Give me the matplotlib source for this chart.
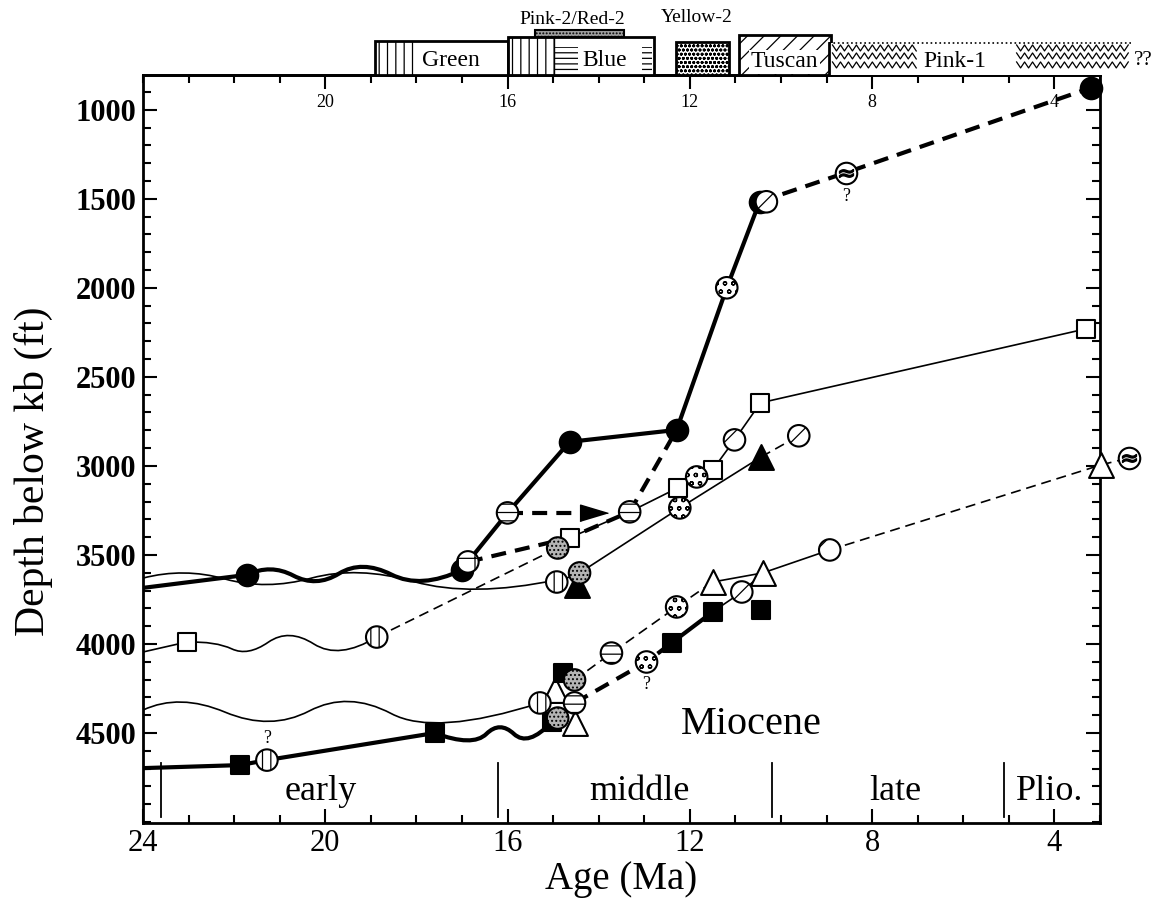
import numpy as np
import matplotlib.pyplot as plt
from matplotlib.path import Path
from matplotlib.patches import PathPatch, Rectangle
from matplotlib.ticker import MultipleLocator
from matplotlib.transforms import blended_transform_factory

plt.rcParams['font.family'] = ['Liberation Serif', 'DejaVu Serif']
plt.rcParams['hatch.linewidth'] = 0.9
plt.rcParams['hatch.color'] = 'black'

# ---- data: age (Ma), depth below kb (ft) ----
# well with solid circles (thick line)
w1_age = [24.0, 21.72]
w1_dep = [3685, 3612]
w1_wig_age = [21.2, 20.2, 19.2, 17.9]          # wiggle control points
w1_wig_dep = [3548, 3684, 3526, 3694]
w1b_age = [17.0, 16.87, 16.0, 14.64, 12.29, 11.19, 10.47]
w1b_dep = [3584, 3539, 3264, 2865, 2798, 2000, 1517]
w1c_age = [10.47, 8.58, 3.19]
w1c_dep = [1517, 1354, 876]
w1d_age = [16.87, 14.64, 13.32, 12.29]
w1d_dep = [3539, 3404, 3258, 2798]
arrow_age = [16.0, 14.11]
arrow_dep = [3264, 3264]

# well with open squares (thin line)
w2_age = [24.0, 23.04]
w2_dep = [4045, 3989]
w2_wig_age = [22.4, 21.7, 20.8, 19.7]
w2_wig_dep = [3985, 4070, 3910, 4090]
w2b_age = [18.87, 14.9]
w2b_dep = [3961, 3461]
w2c_age = [14.9, 14.64, 13.32, 12.27, 11.85, 11.5, 11.02, 10.45, 3.3]
w2c_dep = [3461, 3404, 3258, 3124, 3062, 3022, 2854, 2646, 2230]

# well with solid triangles (thin line)
w3_start = (24.0, 3630)
w3_wig_age = [23.1, 21.3, 19.3, 16.8]
w3_wig_dep = [3570, 3700, 3560, 3740]
w3_end = (14.92, 3640)
w3b_age = [14.92, 14.42, 12.22, 10.43]
w3b_dep = [3652, 3601, 3236, 2949]
w3c_age = [10.43, 9.61]
w3c_dep = [2949, 2831]

# lower thin wiggle
w4_start = (24.0, 4371)
w4_wig_age = [23.2, 21.2, 19.5, 17.6]
w4_wig_dep = [4275, 4490, 4262, 4520]
w4_end = (15.29, 4331)
w4b_age = [15.29, 14.53]
w4b_dep = [4331, 4331]

# well with solid squares (thick line)
w5_age = [24.0, 21.87, 21.28, 17.6]
w5_dep = [4697, 4680, 4652, 4500]
w5_wig_age = [16.76, 16.17, 15.55]
w5_wig_dep = [4580, 4430, 4580]
w5_end = (15.03, 4438)
w5b_age = [14.53, 12.95, 12.4]
w5b_dep = [4331, 4101, 3994]
w5c_age = [12.4, 11.5]
w5c_dep = [3994, 3820]
w5d_age = [11.5, 10.86, 10.4]
w5d_dep = [3820, 3708, 3601]

# well with open triangles (thin line)
w6_age = [14.53, 13.72, 12.29, 11.5]
w6_dep = [4202, 4051, 3792, 3652]
w6b_age = [11.5, 10.4, 8.93]
w6b_dep = [3652, 3601, 3472]
w6c_age = [8.93, 2.97, 2.36]
w6c_dep = [3472, 2994, 2955]

# markers
solid_circ_age = [21.72, 17.0, 14.64, 12.29, 10.47, 3.19]
solid_circ_dep = [3612, 3584, 2865, 2798, 1517, 876]
cross_age = [16.87]
cross_dep = [3539]
blue_age = [16.0, 13.32, 13.72, 14.53]
blue_dep = [3264, 3258, 4051, 4331]
green_age = [18.87, 14.92, 15.29, 21.28]
green_dep = [3961, 3652, 4331, 4652]
pink2_age = [14.9, 14.42, 14.53, 14.9]
pink2_dep = [3461, 3601, 4202, 4416]
yellow_age = [11.19, 11.85, 12.22, 12.29, 12.95]
yellow_dep = [2000, 3062, 3236, 3792, 4101]
tuscan_age = [10.32, 11.02, 9.61, 10.86, 8.93]
tuscan_dep = [1517, 2854, 2831, 3708, 3472]
pink1_age = [8.58, 2.36]
pink1_dep = [1354, 2955]
open_sq_age = [23.04, 14.64, 12.27, 11.5, 10.45, 3.3]
open_sq_dep = [3989, 3404, 3124, 3022, 2646, 2230]
solid_sq_age = [21.87, 17.6, 15.03, 14.79, 12.4, 11.5, 10.43]
solid_sq_dep = [4680, 4500, 4438, 4163, 3994, 3820, 3809]
open_tri_age = [14.96, 14.53, 11.5, 10.4, 2.97]
open_tri_dep = [4258, 4444, 3652, 3601, 2994]
solid_tri_age = [14.48, 10.43]
solid_tri_dep = [3668, 2949]

query_age = [21.28, 8.58, 12.95]
query_dep = [4528, 1489, 4230]

epoch_bounds = [23.6, 16.2, 10.2, 5.1]
epoch_names = ['early', 'middle', 'late', 'Plio.']
epoch_pos = [20.1, 13.1, 7.5, 4.1]

THICK = 3.0
THIN = 1.2


def wiggle(ax, start, c_age, c_dep, end, lw):
    pts = list(zip(c_age, c_dep))
    verts = [start]
    codes = [Path.MOVETO]
    for i, p in enumerate(pts):
        if i + 1 < len(pts):
            q = ((p[0] + pts[i + 1][0]) / 2, (p[1] + pts[i + 1][1]) / 2)
        else:
            q = end
        verts += [p, q]
        codes += [Path.CURVE3, Path.CURVE3]
    ax.add_patch(PathPatch(Path(verts, codes), fill=False, edgecolor='k',
                           lw=lw, zorder=2))


fig = plt.figure(figsize=(11.51, 9.01), dpi=100)
ax = fig.add_axes([0.1242, 0.0866, 0.8315, 0.8302])
ax.set_xlim(24, 3)
ax.set_ylim(5005, 805)

thick_dash = (3.6, 2.2)
thin_dash = (6, 3.5)

# well 1
ax.plot(w1_age, w1_dep, 'k-', lw=THICK)
wiggle(ax, (w1_age[-1], w1_dep[-1]), w1_wig_age, w1_wig_dep, (w1b_age[0], w1b_dep[0]), THICK)
ax.plot(w1b_age, w1b_dep, 'k-', lw=THICK)
ax.plot(w1c_age, w1c_dep, 'k--', lw=THICK, dashes=thick_dash)
ax.plot(w1d_age, w1d_dep, 'k--', lw=THICK, dashes=thick_dash)
ax.plot(arrow_age, arrow_dep, 'k--', lw=THICK, dashes=thick_dash)
ax.plot(arrow_age[-1], arrow_dep[-1], marker=[(1, 0), (-1, 0.6), (-1, -0.6)],
        ms=20, color='k', zorder=3)

# well 2
ax.plot(w2_age, w2_dep, 'k-', lw=THIN)
wiggle(ax, (w2_age[-1], w2_dep[-1]), w2_wig_age, w2_wig_dep, (w2b_age[0], w2b_dep[0]), THIN)
ax.plot(w2b_age, w2b_dep, 'k--', lw=THIN, dashes=thin_dash)
ax.plot(w2c_age, w2c_dep, 'k-', lw=THIN)

# well 3
wiggle(ax, w3_start, w3_wig_age, w3_wig_dep, w3_end, THIN)
ax.plot(w3b_age, w3b_dep, 'k-', lw=THIN)
ax.plot(w3c_age, w3c_dep, 'k--', lw=THIN, dashes=thin_dash)

# lower wiggle
wiggle(ax, w4_start, w4_wig_age, w4_wig_dep, w4_end, THIN)
ax.plot(w4b_age, w4b_dep, 'k-', lw=THIN)

# well 5
ax.plot(w5_age, w5_dep, 'k-', lw=THICK)
wiggle(ax, (w5_age[-1], w5_dep[-1]), w5_wig_age, w5_wig_dep, w5_end, THICK)
ax.plot(w5b_age, w5b_dep, 'k--', lw=THICK, dashes=thick_dash)
ax.plot(w5c_age, w5c_dep, 'k-', lw=THICK)
ax.plot(w5d_age, w5d_dep, 'k-', lw=THIN)

# well 6
ax.plot(w6_age, w6_dep, 'k--', lw=THIN, dashes=thin_dash)
ax.plot(w6b_age, w6b_dep, 'k-', lw=THIN)
ax.plot(w6c_age, w6c_dep, 'k--', lw=THIN, dashes=thin_dash, clip_on=False)

# markers
CS = 240
mk = dict(edgecolors='k', linewidths=1.5, clip_on=False)
ax.scatter(open_tri_age, open_tri_dep, s=320, marker='^', facecolors='white', zorder=3, **mk)
ax.scatter(solid_tri_age, solid_tri_dep, s=320, marker='^', facecolors='k', zorder=3, **mk)
ax.scatter(open_sq_age, open_sq_dep, s=175, marker='s', facecolors='white', zorder=3.1, **mk)
ax.scatter(solid_sq_age, solid_sq_dep, s=175, marker='s', facecolors='k', zorder=3.1, **mk)
ax.scatter(solid_circ_age, solid_circ_dep, s=CS, marker='o', facecolors='k', zorder=3.5, **mk)
ax.scatter(cross_age, cross_dep, s=CS, marker='o', facecolors='white', hatch='+', zorder=4, **mk)
ax.scatter(blue_age, blue_dep, s=CS, marker='o', facecolors='white', hatch='--', zorder=4, **mk)
ax.scatter(green_age, green_dep, s=CS, marker='o', facecolors='white', hatch='||', zorder=4, **mk)
ax.scatter(pink2_age, pink2_dep, s=CS, marker='o', facecolors='#b4b4b4', hatch='....', zorder=4, **mk)
ax.scatter(yellow_age, yellow_dep, s=CS, marker='o', facecolors='white', hatch='oo', zorder=4, **mk)
ax.scatter(tuscan_age, tuscan_dep, s=CS, marker='o', facecolors='white', hatch='/', zorder=4, **mk)
ax.scatter(pink1_age, pink1_dep, s=CS, marker='o', facecolors='white', zorder=4, **mk)
ax.scatter(pink1_age, pink1_dep, s=100, marker=r'$\approx$', color='k', zorder=4.5, clip_on=False)

for a, d in zip(query_age, query_dep):
    ax.text(a, d, '?', ha='center', va='center', fontsize=13, zorder=5)

# epochs
tr = blended_transform_factory(ax.transData, ax.transAxes)
for b in epoch_bounds:
    ax.axvline(b, ymin=0.008, ymax=0.08, color='k', lw=1.3)
for name, a in zip(epoch_names, epoch_pos):
    ax.text(a, 0.042, name, transform=tr, ha='center', va='center', fontsize=26)
ax.text(10.65, 0.132, 'Miocene', transform=tr, ha='center', va='center', fontsize=29)

# axes styling
for sp in ax.spines.values():
    sp.set_linewidth(2)
ax.set_xticks([24, 20, 16, 12, 8, 4])
ax.xaxis.set_minor_locator(MultipleLocator(1))
ax.set_yticks([1000, 1500, 2000, 2500, 3000, 3500, 4000, 4500])
ax.yaxis.set_minor_locator(MultipleLocator(100))
ax.tick_params(axis='both', which='both', direction='in', top=False, right=True, width=1.5)
ax.tick_params(axis='both', which='major', length=10, labelsize=22)
ax.tick_params(axis='both', which='minor', length=6)
ax.tick_params(axis='x', pad=4)
ax.tick_params(axis='y', pad=5)
for lab in ax.get_yticklabels():
    lab.set_fontweight('bold')

top = ax.secondary_xaxis('top')
top.set_xticks([20, 16, 12, 8, 4])
top.xaxis.set_minor_locator(MultipleLocator(1))
top.tick_params(which='both', direction='in', width=1.5)
top.tick_params(which='major', length=10, pad=-26, labelsize=13)
top.tick_params(which='minor', length=6)
top.spines['top'].set_linewidth(2)

fig.text(33 / 1151, 1 - 471 / 901, 'Depth below kb (ft)', rotation=90,
         ha='center', va='center', fontsize=30)
fig.text(621 / 1151, 1 - 880 / 901, 'Age (Ma)', ha='center', va='center', fontsize=28)

# ---- horizon key above the plot ----
key_boxes = [
    # left age, right age, y0, y1, hatch, face, lw
    (18.91, 16.0, 1.0, 1.0455, None, 'white', 2),
    (18.91, 18.04, 1.0, 1.0455, '||', 'none', 0),
    (16.0, 12.79, 1.0, 1.0508, None, 'white', 2),
    (16.0, 14.97, 1.0, 1.0508, '||', 'none', 1),
    (14.95, 14.45, 1.004, 1.038, '---', 'none', 0),
    (13.06, 12.84, 1.004, 1.038, '---', 'none', 0),
    (15.4, 13.45, 1.0508, 1.0602, '.....', '#a0a0a0', 1.5),
    (12.31, 11.15, 1.0, 1.0441, 'oooo', 'white', 2),
    (10.93, 8.91, 1.0, 1.0535, '//', 'white', 2),
]
for a0, a1, y0, y1, h, fc, lw in key_boxes:
    ax.add_patch(Rectangle((a1, y0), a0 - a1, y1 - y0, transform=tr, clip_on=False,
                           facecolor=fc, edgecolor='k', lw=lw, hatch=h, zorder=6))

# Pink-1 box with zigzag texture
pink1_box = (8.95, 2.31, 1.0, 1.0428)
ax.add_patch(Rectangle((pink1_box[1], 1.0), pink1_box[0] - pink1_box[1], 0.0428,
                       transform=tr, clip_on=False, facecolor='white', edgecolor='none', zorder=6))
ax.plot([pink1_box[0], pink1_box[1]], [1.0428, 1.0428], transform=tr, clip_on=False,
        color='k', lw=1.2, ls=':', zorder=7)
ax.plot([pink1_box[0], pink1_box[0]], [1.0, 1.0428], transform=tr, clip_on=False,
        color='k', lw=2, zorder=7)
for z0, z1 in [(8.87, 6.96), (4.83, 2.36)]:
    xs = np.arange(z0, z1, -0.0875)
    for row in [1.0361, 1.0254, 1.0134]:
        ys = row + np.where(np.arange(len(xs)) % 2 == 0, 0.004, -0.004)
        ax.plot(xs, ys, transform=tr, clip_on=False, color='k', lw=0.9, zorder=7)

key_text = dict(transform=tr, ha='center', va='center', zorder=8, clip_on=False)
ax.text(17.25, 1.0187, 'Green', fontsize=17, **key_text)
ax.text(13.87, 1.0187, 'Blue', fontsize=17,
        bbox=dict(facecolor='white', edgecolor='none', pad=1), **key_text)
ax.text(9.92, 1.0174, 'Tuscan', fontsize=17,
        bbox=dict(facecolor='white', edgecolor='none', pad=1), **key_text)
ax.text(6.19, 1.0174, 'Pink-1', fontsize=17,
        bbox=dict(facecolor='white', edgecolor='none', pad=1), **key_text)
ax.text(14.59, 1.0735, 'Pink-2/Red-2', fontsize=14, **key_text)
ax.text(11.85, 1.0762, 'Yellow-2', fontsize=14, **key_text)
ax.text(2.05, 1.0187, '??', fontsize=15, **key_text)

fig.savefig('out.png', dpi=100)
